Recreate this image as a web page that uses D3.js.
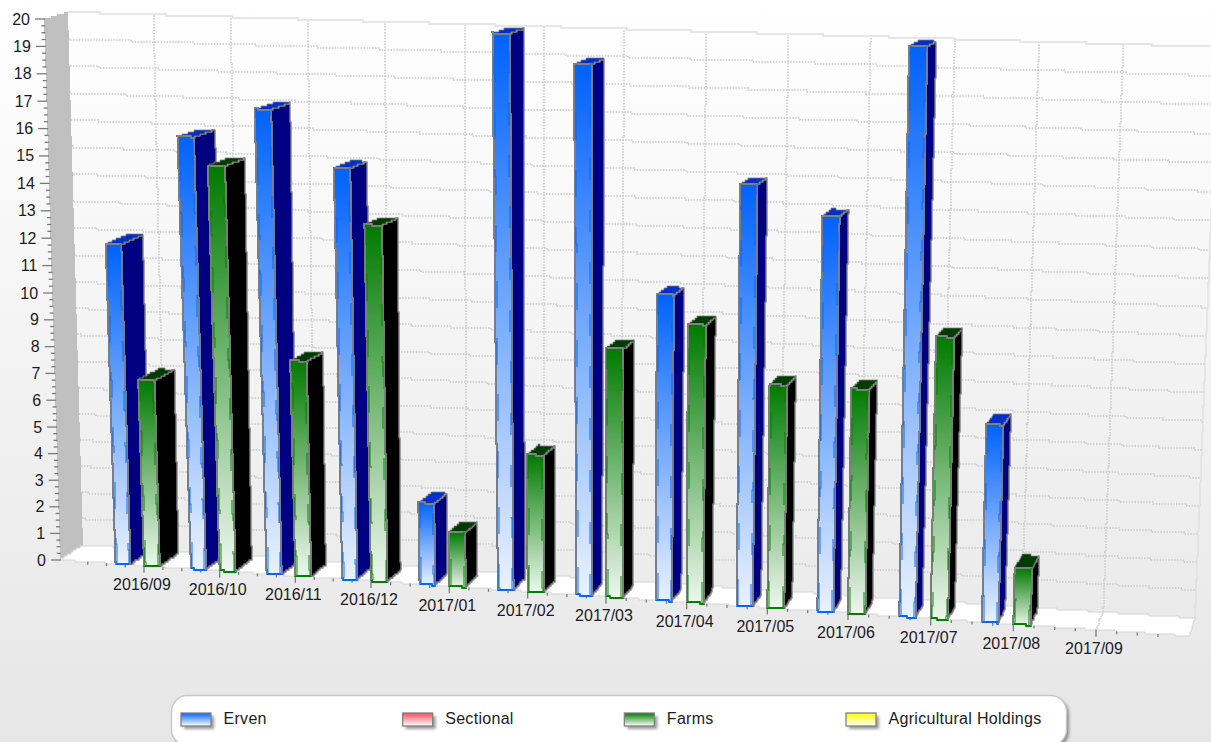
<!DOCTYPE html>
<html>
<head>
<meta charset="utf-8">
<title>Registrations per month</title>
<script src="https://cdn.jsdelivr.net/npm/d3@7"></script>
<style>
  html, body { margin: 0; padding: 0; background: #fff; overflow: hidden; }
  svg { display: block; }
  text { font-family: "Liberation Sans", Arial, sans-serif; fill: #1c1c24; }
</style>
</head>
<body>
<div id="chart"></div>
<script>
const months = ['2016/09', '2016/10', '2016/11', '2016/12', '2017/01', '2017/02', '2017/03',
  '2017/04', '2017/05', '2017/06', '2017/07', '2017/08', '2017/09'];
const erven = [11.9, 15.9, 17, 15, 3, 20, 19, 11, 15, 14, 20, 7, 0];
const farms = [6.95, 14.9, 7.95, 13, 2, 5, 9, 10, 8, 8, 10, 2, 0];
const valueTicks = d3.range(0, 21);
const legendNames = ['Erven', 'Sectional', 'Farms', 'Agricultural Holdings'];
const legendColors = ['#0066ff', '#ff4d5e', '#008000', '#ffff00'];

const width = 1211;
const height = 742;

// Corners of the chart box, front plane first
const box = {
  frontBottomLeft: [60, 560], frontBottomRight: [1189, 636],
  frontTopLeft: [44, 19], frontTopRight: [1208, 55],
  backBottomLeft: [83, 545], backBottomRight: [1195, 618],
  backTopLeft: [68, 12], backTopRight: [1218, 47]
};

const lerp = (a, b, k) => a + (b - a) * k;
const lerp2 = (p, q, k) => [lerp(p[0], q[0], k), lerp(p[1], q[1], k)];

// Month index -> screen x on the front floor edge, month spacing widens to the right
const xAxis = d3.scaleLinear()
  .domain([-1, 0, 3, 6, 9, 12])
  .range([69, 144, 371, 606, 848, 1096]);
// Screen x -> fraction along the box
const xFrac = d3.scaleLinear()
  .domain([box.frontBottomLeft[0], box.frontBottomRight[0]])
  .range([0, 1]);
// Value -> fraction of wall height, slightly bigger units near the top
const yFrac = d3.scaleLinear()
  .domain([0, 5, 10, 15, 20])
  .range([0, 0.2458, 0.4935, 0.7468, 1]);
// Top edge of the front plane, the lean is stronger on the left side
const frontTopX = d3.scaleLinear()
  .domain([0, 0.11, 0.39, 0.6, 1])
  .range([box.frontTopLeft[0], 167, 495, 742, box.frontTopRight[0]]);
// How far a bar reaches into the box at a given position along x
const barDepth = d3.scaleLinear()
  .domain([0.05, 0.17, 0.39, 0.74, 0.9])
  .range([0.9, 0.78, 0.68, 0.65, 0.85])
  .clamp(true);

// t along x, v up the wall, d into the depth (all 0..1)
function project(t, v, d) {
  const topFront = lerp2(box.frontTopLeft, box.frontTopRight, t);
  topFront[0] = frontTopX(t);
  const front = lerp2(lerp2(box.frontBottomLeft, box.frontBottomRight, t), topFront, v);
  const back = lerp2(lerp2(box.backBottomLeft, box.backBottomRight, t),
    lerp2(box.backTopLeft, box.backTopRight, t), v);
  return lerp2(front, back, d);
}
const monthT = i => xFrac(xAxis(i));

// Walk a polyline on a coarse pixel grid so the warped edges come out stair-stepped
function stairs(points, closed) {
  const gx = 1;
  const gy = 2;
  const out = [];
  const pts = closed ? points.concat([points[0]]) : points;
  d3.pairs(pts).forEach(([a, b]) => {
    const n = Math.max(1, Math.ceil(Math.hypot(b[0] - a[0], b[1] - a[1])));
    d3.range(n + 1).forEach(i => {
      const p = lerp2(a, b, i / n);
      const s = [Math.round(p[0] / gx) * gx, Math.round(p[1] / gy) * gy];
      const last = out[out.length - 1];
      if (!last) { out.push(s); return; }
      if (last[0] !== s[0] && last[1] !== s[1]) out.push([last[0], s[1]]);
      if (last[0] !== s[0] || last[1] !== s[1]) out.push(s);
    });
  });
  return d3.line()(out) + (closed ? 'Z' : '');
}

const svg = d3.select('#chart').append('svg')
  .attr('width', width)
  .attr('height', height);
const defs = svg.append('defs');

function addFade(id, color, end) {
  const g = defs.append('linearGradient').attr('id', id)
    .attr('x1', 0).attr('y1', 0).attr('x2', 0).attr('y2', 1);
  g.append('stop').attr('offset', 0).attr('stop-color', color);
  g.append('stop').attr('offset', 1).attr('stop-color', end);
}
addFade('pageFade', '#ffffff', '#e6e6e6');
addFade('ervenFade', '#0062fa', '#eaf2ff');
addFade('farmsFade', '#007a00', '#eef7ee');
legendColors.forEach((c, i) => addFade(`legendFade${i}`, c, '#ffffff'));
defs.append('filter').attr('id', 'soft')
  .append('feGaussianBlur').attr('stdDeviation', 1.4);

svg.append('rect')
  .attr('width', width).attr('height', height)
  .attr('fill', 'url(#pageFade)');

// 1) Back wall grid
const gridStyle = sel => sel
  .attr('fill', 'none')
  .attr('stroke', '#c8c8c8')
  .attr('stroke-width', 1.5)
  .attr('stroke-dasharray', '1.5 1.4');

const grid = svg.append('g').call(gridStyle);
grid.selectAll('path.h')
  .data(valueTicks.filter(v => v > 0 && v < 20))
  .join('path')
  .attr('class', 'h')
  .attr('d', v => stairs([project(0, yFrac(v), 1), project(1, yFrac(v), 1)]));
grid.selectAll('path.v')
  .data(months)
  .join('path')
  .attr('class', 'v')
  .attr('d', (m, i) => stairs([project(monthT(i), 0, 1), project(monthT(i), 1, 1)]));

// top and right borders of the wall
svg.append('path')
  .attr('d', stairs([box.backBottomRight, box.backTopRight]))
  .attr('fill', 'none').attr('stroke', '#dcdcdc').attr('stroke-width', 1.2);
svg.append('path')
  .attr('d', stairs([box.backTopLeft, box.backTopRight]))
  .attr('fill', 'none').attr('stroke', '#e6e6e6').attr('stroke-width', 2);

// 2) Side wall and floor
svg.append('path')
  .attr('d', stairs([box.frontTopLeft, box.backTopLeft, box.backBottomLeft, box.frontBottomLeft], true))
  .attr('fill', '#c0c0c0');
svg.append('path')
  .attr('d', stairs([box.frontBottomLeft, box.backBottomLeft, box.backBottomRight, box.frontBottomRight], true))
  .attr('fill', '#ffffff')
  .attr('stroke', '#d4d4d4')
  .attr('stroke-width', 1);
svg.append('g').call(gridStyle)
  .selectAll('path')
  .data(months)
  .join('path')
  .attr('d', (m, i) => stairs([project(monthT(i), 0, 0), project(monthT(i), 0, 1)]));

// 3) Axis ticks and labels
const tickColor = '#7a7a7a';
const axisMarks = svg.append('g').attr('stroke', tickColor).attr('stroke-width', 1.3);

const minorValues = d3.range(0, 20, 0.25).filter(v => v % 1 !== 0);
axisMarks.selectAll('line.ym')
  .data(minorValues)
  .join('line')
  .attr('class', 'ym')
  .attr('x1', v => project(0, yFrac(v), 0)[0] - 3)
  .attr('x2', v => project(0, yFrac(v), 0)[0] + 1)
  .attr('y1', v => project(0, yFrac(v), 0)[1])
  .attr('y2', v => project(0, yFrac(v), 0)[1]);
axisMarks.selectAll('line.y')
  .data(valueTicks)
  .join('line')
  .attr('class', 'y')
  .attr('x1', v => project(0, yFrac(v), 0)[0] - 9)
  .attr('x2', v => project(0, yFrac(v), 0)[0] + 1)
  .attr('y1', v => project(0, yFrac(v), 0)[1])
  .attr('y2', v => project(0, yFrac(v), 0)[1]);

svg.append('g').selectAll('text')
  .data(valueTicks)
  .join('text')
  .attr('x', v => project(0, yFrac(v), 0)[0] - 14)
  .attr('y', v => project(0, yFrac(v), 0)[1] + 5.5)
  .attr('text-anchor', 'end')
  .attr('font-size', 16)
  .text(v => v);

const minorMonths = d3.range(-0.75, 12.8, 0.25).filter(i => i % 1 !== 0);
axisMarks.selectAll('line.xm')
  .data(minorMonths)
  .join('line')
  .attr('class', 'xm')
  .attr('x1', i => xAxis(i))
  .attr('x2', i => xAxis(i))
  .attr('y1', i => project(monthT(i), 0, 0)[1])
  .attr('y2', i => project(monthT(i), 0, 0)[1] + 3);
axisMarks.selectAll('line.x')
  .data(months)
  .join('line')
  .attr('class', 'x')
  .attr('x1', (m, i) => xAxis(i))
  .attr('x2', (m, i) => xAxis(i))
  .attr('y1', (m, i) => project(monthT(i), 0, 0)[1])
  .attr('y2', (m, i) => project(monthT(i), 0, 0)[1] + 7);

svg.append('g').selectAll('text')
  .data(months)
  .join('text')
  .attr('x', (m, i) => xAxis(i) - 2)
  .attr('y', (m, i) => project(monthT(i), 0, 0)[1] + 24.5)
  .attr('text-anchor', 'middle')
  .attr('font-size', 16)
  .text(m => m);

// 4) Bars, one pair per month
const barFlare = 0.001;
const barSeries = [
  { name: 'Erven', values: erven, from: -0.38, to: -0.18, fill: 'url(#ervenFade)', edge: '#0066ff', side: '#000080', top: '#0030c8' },
  { name: 'Farms', values: farms, from: 0, to: 0.21, fill: 'url(#farmsFade)', edge: '#008000', side: '#000000', top: '#003c00' }
];
const barRows = months.flatMap((m, i) => barSeries
  .filter(s => s.values[i] > 0)
  .map(s => ({ month: i, value: s.values[i], s })));

const bars = svg.append('g').selectAll('g')
  .data(barRows)
  .join('g')
  .attr('stroke-linejoin', 'round');

// corner points of one bar
function barCorners(d) {
  const t0 = monthT(d.month + d.s.from);
  const t1 = monthT(d.month + d.s.to);
  const v = yFrac(d.value);
  const tr = t1 + barFlare * v;
  const depth = barDepth(t1);
  return {
    fl: project(t0, 0, 0), fr: project(t1, 0, 0),
    tl: project(t0, v, 0), tr: project(tr, v, 0),
    br: project(t1, 0, depth), trb: project(tr, v, depth),
    tlb: project(t0, v, depth)
  };
}

bars.append('path')
  .attr('d', d => {
    const c = barCorners(d);
    return stairs([c.fr, c.br, c.trb, c.tr], true);
  })
  .attr('fill', d => d.s.side)
  .attr('stroke', '#808080')
  .attr('stroke-width', 1.4);
bars.append('path')
  .attr('d', d => {
    const c = barCorners(d);
    return stairs([c.tl, c.tr, c.trb, c.tlb], true);
  })
  .attr('fill', d => d.s.top)
  .attr('stroke', '#808080')
  .attr('stroke-width', 0.8);
bars.append('path')
  .attr('d', d => {
    const c = barCorners(d);
    return stairs([c.tl, c.tr, c.fr, c.fl], true);
  })
  .attr('fill', d => d.s.fill)
  .attr('stroke', d => d.s.edge)
  .attr('stroke-width', 1.8);
// grey outline sits over the coloured rim and leaves the bottom edge coloured
bars.append('path')
  .attr('d', d => {
    const c = barCorners(d);
    return stairs([c.fl, c.tl, c.tr, c.fr]);
  })
  .attr('fill', 'none')
  .attr('stroke', '#808080')
  .attr('stroke-width', 1.8);
// broken coloured strips just inside the long edges of the front face
bars.append('path')
  .attr('d', d => {
    const c = barCorners(d);
    const inset = p => [p[0] + 1.6, p[1]];
    return stairs([inset(c.fl), inset(c.tl)]);
  })
  .attr('fill', 'none')
  .attr('stroke', d => d.s.edge)
  .attr('stroke-width', 1.2)
  .attr('stroke-opacity', 0.8)
  .attr('stroke-dasharray', '27 30');
bars.append('path')
  .attr('d', d => {
    const c = barCorners(d);
    const inset = p => [p[0] - 1.6, p[1]];
    return stairs([inset(c.fr), inset(c.tr)]);
  })
  .attr('fill', 'none')
  .attr('stroke', d => d.s.edge)
  .attr('stroke-width', 1.2)
  .attr('stroke-opacity', 0.8)
  .attr('stroke-dasharray', '22 30');

// 5) Legend
const legend = svg.append('g');
legend.append('rect')
  .attr('x', 174).attr('y', 698)
  .attr('width', 895).attr('height', 50).attr('rx', 16)
  .attr('fill', '#8c8c8c')
  .attr('filter', 'url(#soft)');
legend.append('rect')
  .attr('x', 171.5).attr('y', 695.5)
  .attr('width', 895).attr('height', 50).attr('rx', 16)
  .attr('fill', '#ffffff')
  .attr('stroke', '#c8c8c8')
  .attr('stroke-width', 1.4);

const legendX = d3.scalePoint()
  .domain(legendNames)
  .range([181, 846]);

const items = legend.selectAll('g.item')
  .data(legendNames)
  .join('g')
  .attr('class', 'item')
  .attr('transform', d => `translate(${legendX(d)},713)`);
items.append('rect')
  .attr('x', 3).attr('y', 3)
  .attr('width', 30).attr('height', 13)
  .attr('fill', '#9a9a9a')
  .attr('filter', 'url(#soft)');
items.append('rect')
  .attr('width', 30).attr('height', 13)
  .attr('fill', (d, i) => `url(#legendFade${i})`)
  .attr('stroke', '#808080')
  .attr('stroke-width', 1.3);
items.append('text')
  .attr('x', 42.5).attr('y', 11)
  .attr('font-size', 16)
  .attr('letter-spacing', 0.3)
  .text(d => d);
</script>
</body>
</html>
